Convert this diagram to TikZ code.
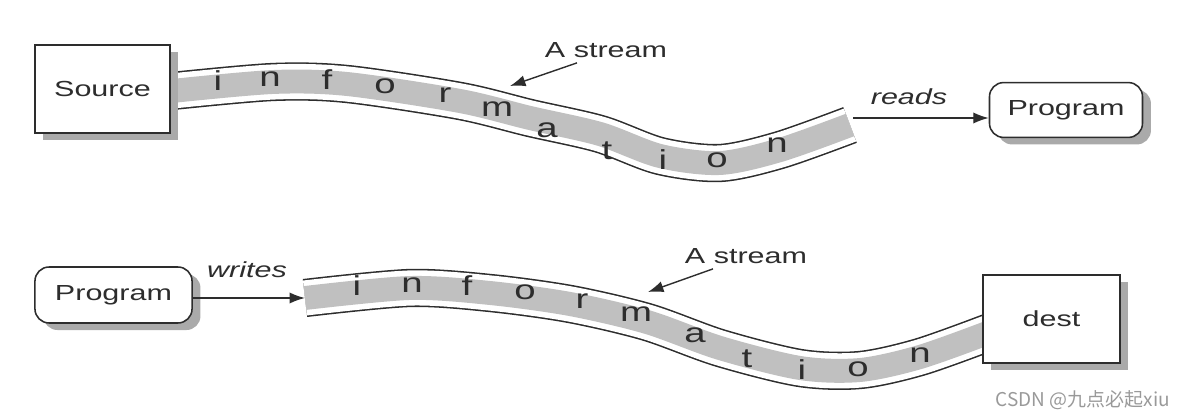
\documentclass[tikz,border=0pt]{standalone}
\usepackage{fontspec}
\setmainfont{Liberation Sans}[FakeStretch=1.4]
\newfontfamily\cjk{Noto Sans CJK SC}
\definecolor{bandgray}{RGB}{192,192,192}
\definecolor{shadegray}{RGB}{170,170,170}
\definecolor{inkgray}{RGB}{45,45,45}
\usetikzlibrary{positioning,shadows,arrows.meta}

\tikzset{
  box/.style={draw=inkgray, line width=1.1pt, fill=white, inner sep=0pt, text=inkgray,
    font=\fontsize{15.5}{18}\selectfont,
    drop shadow={shadow xshift=6pt, shadow yshift=-5pt, fill=shadegray, opacity=1}},
  pipe/.style={draw=inkgray, line width=1.1pt, double=white, double distance=25pt},
  band/.style={draw=bandgray, line width=17pt},
  letter/.style={font=\fontsize{19.5}{22}\selectfont, text=inkgray, anchor=mid, inner sep=0pt},
  tag/.style={font=\fontsize{15.5}{18}\selectfont, text=inkgray, inner sep=0pt},
  verb/.style={tag, font=\itshape\fontsize{15.5}{18}\selectfont},
  flow/.style={draw=inkgray, line width=1pt, -{Latex[length=11pt,width=8pt]}},
  watermark/.style={font=\cjk\fontsize{13.5}{15}\selectfont, text=black!40, inner sep=0pt}
}

\begin{document}
\begin{tikzpicture}[x=0.025cm, y=-0.025cm]
    \useasboundingbox (0,0) rectangle (1186,419);
    \draw[pipe] plot[smooth] coordinates {(172,91) (273,82) (347,84) (460,101) (530,118) (600,134) (660,156) (720,163) (780,150) (850,125)};
    \draw[band] plot[smooth] coordinates {(172,91) (273,82) (347,84) (460,101) (530,118) (600,134) (660,156) (720,163) (780,150) (850,125)};
    \draw[pipe] plot[smooth] coordinates {(305,298) (410,288) (490,293) (570,304) (647,322) (720,348) (800,368) (860,370) (920,357) (990,332)};
    \draw[band] plot[smooth] coordinates {(305,298) (410,288) (490,293) (570,304) (647,322) (720,348) (800,368) (860,370) (920,357) (990,332)};

    \node[box, minimum width=96pt, minimum height=62.6pt] (source) at (102.5,89) {Source};
    \node[box, rounded corners=10pt, minimum width=108.8pt, minimum height=39pt] (progr) at (1066,110) {Program};
    \node[box, rounded corners=10pt, minimum width=111.7pt, minimum height=39.8pt] (progw) at (113.5,295) {Program};
    \node[box, minimum width=97.5pt, minimum height=62.6pt] (dest) at (1051.5,319) {dest};

    \foreach \ch/\x/\y [count=\k] in {i/218/87, n/270/83, f/327/86, o/385/90, r/445/99, m/497/113, a/547/134, t/607/156, i/663/166, o/717/164, n/777/149}
        \node[letter] (up\k) at (\x,\y) {\ch};
    \foreach \ch/\x/\y [count=\k] in {i/357/292, n/412/289, f/467/292, o/525/296, r/582/305, m/636/318, a/695/339, t/747/364, i/802/376, o/858/373, n/920/359}
        \node[letter] (lo\k) at (\x,\y) {\ch};

    \coordinate (readsfrom) at (853,118);
    \draw[flow] (readsfrom) -- (readsfrom -| progr.west);
    \node[verb] (reads) at (909,97) {reads};
    \coordinate (writesto) at (305,298);
    \draw[flow] (writesto -| progw.east) -- (writesto);
    \node[verb] (writes) at (247,270) {writes};

    \node[tag] (streamr) at (606,50) {A stream};
    \coordinate (hitr) at (510,86);
    \draw[flow] ([shift={(-29,5)}]streamr.south) -- (hitr);
    \node[tag] (streamw) at (746,256) {A stream};
    \coordinate (hitw) at (648,292);
    \draw[flow] ([shift={(-33,5)}]streamw.south) -- (hitw);

    \node[watermark] (csdn) at (1083,400) {CSDN @九点必起xiu};
\end{tikzpicture}
\end{document}
